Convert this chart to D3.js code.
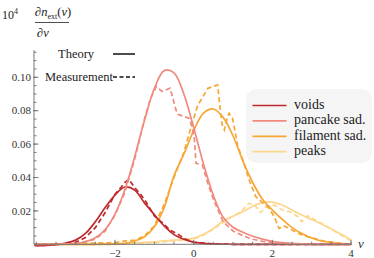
<!DOCTYPE html>
<html>
<head>
<meta charset="utf-8">
<script src="https://cdn.jsdelivr.net/npm/d3@7"></script>
<style>
body { margin: 0; background: #fff; }
svg { display: block; }
</style>
</head>
<body>
<div id="chart"></div>
<script>
// theory curves, common grid
var nuTheory = [-4, -3.75, -3.5, -3.25, -3, -2.75, -2.5, -2.25, -2, -1.75, -1.5, -1.25, -1, -0.75, -0.5, -0.25,
	0, 0.25, 0.5, 0.75, 1, 1.25, 1.5, 1.75, 2, 2.25, 2.5, 2.75, 3, 3.25, 3.5, 3.75, 4];
var voidsTheory = [-0.0008, -0.0007, -0.0002, 0.0008, 0.0025, 0.0065, 0.0135, 0.022, 0.0295, 0.0343, 0.0325, 0.0248,
	0.0178, 0.011, 0.0058, 0.003, 0.0013, 0.0006, 0.0002, 0.0001, 0, 0, 0, 0, 0, 0, 0, 0, 0, 0, 0, 0, 0];
var pancakeTheory = [0, 0, 0, 0.0002, 0.0005, 0.0015, 0.0039, 0.0089, 0.0181, 0.0327, 0.0523, 0.0742, 0.0933, 0.104,
	0.1027, 0.09, 0.0699, 0.0481, 0.0293, 0.0162, 0.0102, 0.0072, 0.0048, 0.0031, 0.0018, 0.001, 0.0005, 0.0002,
	0, 0, 0, 0, 0];
var filamentTheory = [0, 0, 0, 0, 0, 0, 0, 0.0001, 0.0002, 0.0005, 0.002, 0.0045, 0.0105, 0.022, 0.041, 0.054,
	0.068, 0.0785, 0.081, 0.076, 0.065, 0.05, 0.037, 0.027, 0.0205, 0.015, 0.01, 0.0065, 0.0038, 0.002, 0.001,
	0.0004, 0.0001];
var peaksTheory = [0, 0, 0, 0, 0, 0, 0, 0, 0, 0.0004, 0.0008, 0.0011, 0.0015, 0.002, 0.0025, 0.003, 0.0037, 0.006,
	0.0095, 0.014, 0.0168, 0.0195, 0.0228, 0.0250, 0.0252, 0.0235, 0.0205, 0.0175, 0.0148, 0.0122, 0.0092, 0.006,
	0.0026];

// measurements
var voidsMeasNu = [-4.05, -3.5, -3.25, -3, -2.75, -2.5, -2.25, -2, -1.85, -1.75, -1.65, -1.5, -1.35, -1.2, -1,
	-0.8, -0.6, -0.4, -0.2, 0, 0.5, 1, 2, 3, 4];
var voidsMeas = [-0.0008, -0.0003, 0.0004, 0.0012, 0.004, 0.01, 0.019, 0.03, 0.034, 0.037, 0.0388, 0.034, 0.03,
	0.025, 0.017, 0.013, 0.0085, 0.006, 0.003, 0.0012, 0.0003, 0, 0, 0, 0];
var pancakeMeasNu = [-4.05, -3, -2.5, -2.25, -2, -1.75, -1.5, -1.25, -1.1, -0.95, -0.8, -0.6, -0.42, -0.11, -0.03,
	0.02, 0.06, 0.22, 0.36, 0.5, 0.75, 1, 1.25, 1.5, 1.75, 2, 2.5, 3, 4];
var pancakeMeas = [0, 0.0003, 0.003, 0.008, 0.0175, 0.031, 0.051, 0.075, 0.087, 0.0945, 0.0915, 0.0935, 0.078,
	0.0754, 0.0695, 0.0625, 0.0485, 0.0475, 0.0365, 0.027, 0.0135, 0.008, 0.0052, 0.003, 0.0018, 0.001, 0.0003,
	0, 0];
var filamentMeasNu = [-4.05, -2, -1.75, -1.5, -1.25, -1, -0.75, -0.5, -0.25, -0.07, 0.1, 0.36, 0.61, 0.66, 0.72,
	0.78, 0.82, 0.9, 0.99, 1.12, 1.25, 1.41, 1.58, 1.75, 1.9, 2.05, 2.17, 2.3, 2.5, 2.8, 3, 3.3, 3.6, 4];
var filamentMeas = [0, 0.001, 0.002, 0.0025, 0.005, 0.011, 0.024, 0.04, 0.055, 0.07, 0.083, 0.0934, 0.0954, 0.084,
	0.072, 0.0685, 0.073, 0.0784, 0.0754, 0.059, 0.0505, 0.0385, 0.0285, 0.025, 0.022, 0.0165, 0.0095, 0.011,
	0.0085, 0.005, 0.004, 0.002, 0.001, 0];
var peaksMeasNu = [-4.05, -2, -1.5, -1, -0.5, 0, 0.25, 0.5, 0.75, 1, 1.2, 1.4, 1.55, 1.7, 1.85, 2.05, 2.25, 2.45,
	2.65, 2.75, 2.9, 3.1, 3.3, 3.5, 3.75, 4];
var peaksMeas = [0, 0, 0.0005, 0.001, 0.002, 0.003, 0.0055, 0.009, 0.013, 0.017, 0.0195, 0.0245, 0.0235, 0.019,
	0.0225, 0.0235, 0.0205, 0.0195, 0.0165, 0.0135, 0.017, 0.0145, 0.012, 0.009, 0.0055, 0.002];

var seriesNames = ["voids", "pancake sad.", "filament sad.", "peaks"];
var seriesColors = ["#bf2a2c", "#f08a7e", "#f6a735", "#fdd78e"];
var xTicks = [-2, 0, 2, 4];
var yTicks = [0.02, 0.04, 0.06, 0.08, 0.10];

var width = 374, height = 258;
var svg = d3.select("#chart").append("svg")
	.attr("width", width)
	.attr("height", height)
	.attr("font-family", "'Liberation Serif', 'Times New Roman', serif");

var x = d3.scaleLinear().domain([-2, 4]).range([115, 351]);
var y = d3.scaleLinear().domain([0, 0.1]).range([244.3, 77.3]);
var x0 = x(-4.06), x1 = x(4.03), yTop = y(0.1162);

var theory = [voidsTheory, pancakeTheory, filamentTheory, peaksTheory];
var meas = [[voidsMeasNu, voidsMeas], [pancakeMeasNu, pancakeMeas], [filamentMeasNu, filamentMeas],
	[peaksMeasNu, peaksMeas]];

var curves = svg.append("g").attr("fill", "none").attr("stroke-width", 1.7);
var lineT = d3.line().x(function(d){ return x(d[0]); }).y(function(d){ return y(d[1]); })
	.curve(d3.curveCatmullRom.alpha(0.5));
var lineM = d3.line().x(function(d){ return x(d[0]); }).y(function(d){ return y(d[1]); });

[3, 2, 0, 1].forEach(function(i){
	curves.append("path")
		.attr("d", lineT(nuTheory.map(function(n, k){ return [n, theory[i][k]]; })))
		.attr("stroke", seriesColors[i]);
	curves.append("path")
		.attr("d", lineM(meas[i][0].map(function(n, k){ return [n, meas[i][1][k]]; })))
		.attr("stroke", seriesColors[i])
		.attr("stroke-dasharray", "5,3");
});

// axes, Mathematica style: ticks point inward
var axisColor = "#777";
var gx = svg.append("g").attr("transform", "translate(0," + y(0) + ")");
gx.append("line").attr("x1", x0).attr("x2", x1).attr("stroke", axisColor);
gx.selectAll(".minor").data(d3.range(-4, 4.01, 0.5)).enter().append("line")
	.attr("x1", function(d){ return x(d); }).attr("x2", function(d){ return x(d); })
	.attr("y1", 0).attr("y2", -2.5).attr("stroke", axisColor);
gx.selectAll(".major").data(xTicks).enter().append("line")
	.attr("x1", function(d){ return x(d); }).attr("x2", function(d){ return x(d); })
	.attr("y1", 0).attr("y2", -4.5).attr("stroke", axisColor);
gx.selectAll(".lbl").data(xTicks).enter().append("text")
	.attr("x", function(d){ return x(d); }).attr("y", 13)
	.attr("text-anchor", "middle").attr("font-size", 11).attr("fill", "#333")
	.text(function(d){ return d < 0 ? "\u2212" + Math.abs(d) : d; });

var gy = svg.append("g").attr("transform", "translate(" + x0 + ",0)");
gy.append("line").attr("y1", y(0)).attr("y2", yTop).attr("stroke", axisColor);
gy.selectAll(".minor").data(d3.range(0, 0.116, 0.005)).enter().append("line")
	.attr("y1", function(d){ return y(d); }).attr("y2", function(d){ return y(d); })
	.attr("x1", 0).attr("x2", 2.5).attr("stroke", axisColor);
gy.selectAll(".major").data(yTicks).enter().append("line")
	.attr("y1", function(d){ return y(d); }).attr("y2", function(d){ return y(d); })
	.attr("x1", -1).attr("x2", 4.5).attr("stroke", axisColor);
gy.selectAll(".lbl").data(yTicks).enter().append("text")
	.attr("x", -3).attr("y", function(d){ return y(d) + 3.6; })
	.attr("text-anchor", "end").attr("font-size", 11).attr("fill", "#333")
	.text(function(d){ return d3.format(".2f")(d); });

svg.append("text").attr("x", 358).attr("y", 247.5)
	.attr("font-size", 13).attr("font-style", "italic").attr("fill", "#333").text("\u03bd");

// y label: 10^4 dn_ext(nu)/dnu
var lab = svg.append("g").attr("fill", "#222");
var t1 = lab.append("text").attr("x", 2).attr("y", 19).attr("font-size", 12);
t1.append("tspan").text("10");
t1.append("tspan").attr("font-size", 8).attr("dy", -5).text("4");
var t2 = lab.append("text").attr("x", 35).attr("y", 16).attr("font-size", 12.5);
t2.append("tspan").text("\u2202");
t2.append("tspan").attr("font-style", "italic").text("n");
t2.append("tspan").attr("font-size", 8).attr("dy", 3).text("ext");
t2.append("tspan").attr("dy", -3).text("(");
t2.append("tspan").attr("font-style", "italic").text("\u03bd");
t2.append("tspan").text(")");
lab.append("line").attr("x1", 35).attr("x2", 69).attr("y1", 22.5).attr("y2", 22.5)
	.attr("stroke", "#222").attr("stroke-width", 0.8);
var t3 = lab.append("text").attr("x", 37).attr("y", 37).attr("font-size", 12.5);
t3.append("tspan").text("\u2202");
t3.append("tspan").attr("font-style", "italic").text("\u03bd");

// line-style key
var key = svg.append("g").attr("font-size", 12.5).attr("fill", "#222");
key.append("text").attr("x", 58).attr("y", 58).text("Theory");
key.append("line").attr("x1", 113).attr("x2", 135).attr("y1", 54).attr("y2", 54)
	.attr("stroke", "#111").attr("stroke-width", 1.5);
key.append("text").attr("x", 45).attr("y", 80.5).text("Measurement");
key.append("line").attr("x1", 113).attr("x2", 135).attr("y1", 77).attr("y2", 77)
	.attr("stroke", "#111").attr("stroke-width", 1.5).attr("stroke-dasharray", "4,2.5");

// series legend
var leg = svg.append("g");
leg.append("rect").attr("x", 246).attr("y", 89).attr("width", 126).attr("height", 74)
	.attr("rx", 10).attr("fill", "#f5f5f5");
leg.selectAll(".row").data(seriesNames).enter().append("g")
	.attr("transform", function(d, i){ return "translate(0," + (105.5 + i * 15.4) + ")"; })
	.each(function(d, i){
		var g = d3.select(this);
		g.append("line").attr("x1", 252.5).attr("x2", 286.5)
			.attr("stroke", seriesColors[i]).attr("stroke-width", 1.7);
		g.append("text").attr("x", 294).attr("y", 3.5).attr("font-size", 14).attr("fill", "#222").text(d);
	});
</script>
</body>
</html>
